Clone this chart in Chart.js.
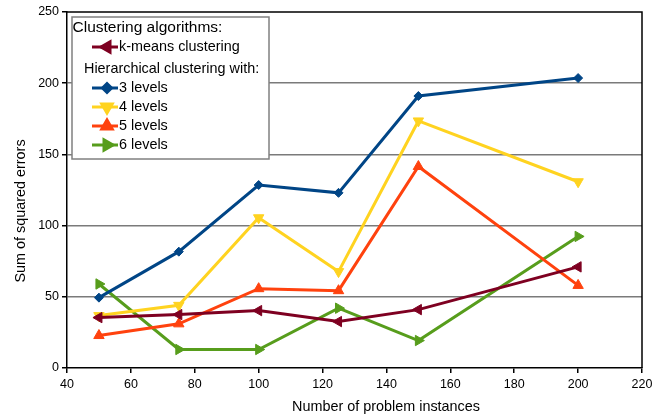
<!DOCTYPE html>
<html>
<head>
<meta charset="utf-8">
<script src="https://cdn.jsdelivr.net/npm/chart.js@4/dist/chart.umd.min.js"></script>
<style>
  html, body { margin:0; padding:0; background:#fff; }
  #wrap { width:665px; height:420px; }
</style>
</head>
<body>
<div id="wrap"><canvas id="grafico"></canvas></div>
<script>
const instancias = [50, 75, 100, 125, 150, 200];
const kmeans  = [35.4, 37.5, 40.3, 32.6, 41, 71];
const niveis3 = [49.4, 81.7, 128.5, 123, 191, 203.6];
const niveis4 = [36.8, 44, 105.5, 67.7, 173.5, 130.8];
const niveis5 = [22.8, 31, 55.7, 54.3, 141.5, 58];
const niveis6 = [59, 13, 13, 42, 19.3, 92.4];

const tituloX = 'Number of problem instances';
const tituloY = 'Sum of squared errors';

const fonte = "'Liberation Sans', Arial, sans-serif";

function serie(label, valores, cor, estilo, rot){
    return {
        label: label,
        data: instancias.map((x,i)=>({x:x, y:valores[i]})),
        borderColor: cor,
        backgroundColor: cor,
        borderWidth: 3,
        pointStyle: estilo,
        pointRotation: rot,
        pointRadius: estilo==='rectRot' ? 4.5 : 6,
        pointBorderWidth: 1,
        tension: 0
    };
}

const datasets = [
    serie('k-means clustering', kmeans, '#7E0021', 'triangle', 270),
    serie('3 levels', niveis3, '#004586', 'rectRot', 0),
    serie('4 levels', niveis4, '#FFD320', 'triangle', 180),
    serie('5 levels', niveis5, '#FF420E', 'triangle', 0),
    serie('6 levels', niveis6, '#579D1C', 'triangle', 90)
];

// legenda desenhada dentro da area do grafico, com os dois titulos
const caixaLegenda = {
    id: 'caixaLegenda',
    afterDatasetsDraw(chart){
        const c = chart.ctx;
        const a = chart.chartArea;
        const x0 = a.left + 5, y0 = a.top + 5, w = 197, h = 142;
        c.save();
        c.fillStyle = '#fff';
        c.fillRect(x0, y0, w, h);
        c.strokeStyle = '#808080';
        c.lineWidth = 1.5;
        c.strokeRect(x0, y0, w, h);
        c.fillStyle = '#000';
        c.textBaseline = 'middle';
        c.font = '15.5px ' + fonte;
        c.fillText('Clustering algorithms:', x0 + 0.5, y0 + 11);
        c.font = '14.4px ' + fonte;
        c.fillText('Hierarchical clustering with:', x0 + 12, y0 + 52);
        const linhas = [30, 71, 90, 109, 128];
        chart.data.datasets.forEach((ds, i) => {
            const y = y0 + linhas[i];
            c.strokeStyle = ds.borderColor;
            c.lineWidth = 3;
            c.beginPath();
            c.moveTo(x0 + 20, y);
            c.lineTo(x0 + 46, y);
            c.stroke();
            Chart.helpers.drawPoint(c, {
                pointStyle: ds.pointStyle,
                rotation: ds.pointRotation,
                radius: ds.pointStyle==='rectRot' ? 4.5 : 6,
                borderWidth: 1
            }, x0 + 35, y);
            c.fillStyle = ds.borderColor;
            c.fill();
            c.fillStyle = '#000';
            c.fillText(ds.label, x0 + 47, y);
        });
        c.restore();
    }
};

// moldura do grafico (topo e lado direito) e titulos dos eixos
const moldura = {
    id: 'moldura',
    beforeDatasetsDraw(chart){
        const c = chart.ctx, a = chart.chartArea;
        c.save();
        c.strokeStyle = '#000';
        c.lineWidth = 1.5;
        c.beginPath();
        c.moveTo(a.left, a.top);
        c.lineTo(a.right, a.top);
        c.lineTo(a.right, a.bottom);
        c.stroke();
        c.fillStyle = '#000';
        c.font = '14.4px ' + fonte;
        c.textAlign = 'center';
        c.textBaseline = 'middle';
        c.fillText(tituloX, 386, 407);
        c.translate(21, 211);
        c.rotate(-Math.PI/2);
        c.fillText(tituloY, 0, 0);
        c.restore();
    }
};

Chart.defaults.font.family = fonte;
Chart.defaults.color = '#000';

new Chart(document.getElementById('grafico'), {
    type: 'line',
    data: { datasets: datasets },
    options: {
        responsive: true,
        maintainAspectRatio: false,
        animation: false,
        layout: { padding: { left: 0, right: 23, top: 12, bottom: 0 } },
        plugins: { legend: { display: false }, tooltip: { enabled: false } },
        scales: {
            x: {
                type: 'linear',
                min: 40, max: 220,
                ticks: { stepSize: 20, font: { size: 12.5 }, padding: 4 },
                grid: { drawOnChartArea: false, color: '#000', tickColor: '#000', tickLength: 5, lineWidth: 1.5 },
                border: { color: '#000', width: 1.5 },
                afterFit(s){ s.height = 52; }
            },
            y: {
                min: 0, max: 250,
                ticks: { stepSize: 50, font: { size: 12.5 }, padding: 3 },
                grid: { color: (ctx) => ctx.tick && (ctx.tick.value === 0 || ctx.tick.value === 250) ? 'rgba(0,0,0,0)' : '#7a7a7a', tickColor: '#000', tickLength: 5, lineWidth: 1.5 },
                border: { color: '#000', width: 1.5 },
                afterFit(s){ s.width = 67; }
            }
        }
    },
    plugins: [moldura, caixaLegenda]
});
</script>
</body>
</html>
